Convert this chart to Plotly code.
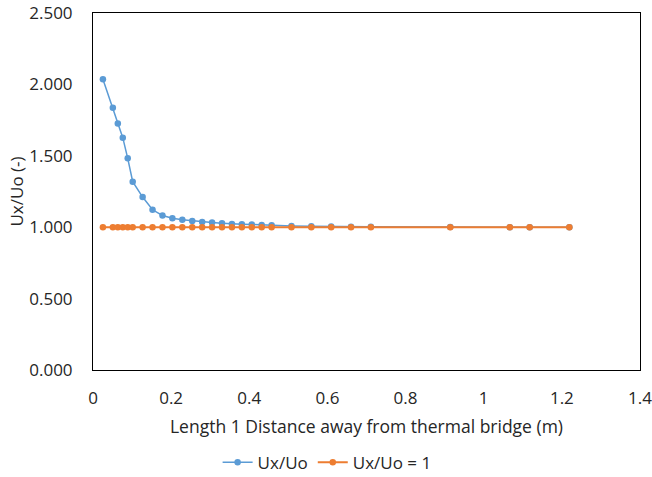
import plotly.graph_objects as go

inches = [1, 2, 2.5, 3, 3.5, 4, 5, 6, 7, 8, 9, 10, 11, 12, 13, 14, 15, 16, 17, 18,
          20, 22, 24, 26, 28, 36, 42, 44, 48]
distance_m = [round(v * 0.0254, 4) for v in inches]
ux_uo = [2.036, 1.837, 1.727, 1.627, 1.482, 1.319, 1.211, 1.122, 1.082, 1.063,
         1.052, 1.044, 1.037, 1.033, 1.028, 1.023, 1.021, 1.019, 1.016, 1.014,
         1.009, 1.007, 1.005, 1.004, 1.003, 1.001, 1.000, 1.000, 1.000]
ux_uo_ref = [1.0] * len(distance_m)

BLUE = "#5B9BD5"
ORANGE = "#ED7D31"
FONT = "Open Sans"
TXT = "#262626"

fig = go.Figure()
fig.add_trace(go.Scatter(
    x=distance_m, y=ux_uo, mode="lines+markers", name="Ux/Uo",
    line=dict(color=BLUE, width=1.5), marker=dict(color=BLUE, size=6.5)))
fig.add_trace(go.Scatter(
    x=distance_m, y=ux_uo_ref, mode="lines+markers", name="Ux/Uo = 1",
    line=dict(color=ORANGE, width=2), marker=dict(color=ORANGE, size=6.5)))

fig.update_layout(
    width=652, height=477,
    margin=dict(l=93, r=12, t=13, b=107, autoexpand=False),
    plot_bgcolor="white", paper_bgcolor="white",
    font=dict(family=FONT, size=17, color=TXT),
    showlegend=True,
    legend=dict(orientation="h", x=0.428, xanchor="center",
                y=-0.26, yanchor="middle", font=dict(size=17, color=TXT),
                itemwidth=30, tracegroupgap=0),
    xaxis=dict(range=[0, 1.4], dtick=0.2, tick0=0, showgrid=False, zeroline=False,
               showline=True, linecolor="black", linewidth=1, mirror=True,
               ticks="", ticklabelstandoff=13, automargin=False,
               ticklabeloverflow="allow",
               tickfont=dict(size=17, color=TXT),
               title=dict(text="Length 1 Distance away from thermal bridge (m)",
                          font=dict(size=17.5, color=TXT), standoff=12)),
    yaxis=dict(range=[0, 2.5], dtick=0.5, tick0=0, tickformat=".3f", showgrid=False,
               zeroline=False, showline=True, linecolor="black", linewidth=1,
               mirror=True, ticks="", ticklabelstandoff=16, automargin=False,
               ticklabeloverflow="allow",
               tickfont=dict(size=17, color=TXT),
               title=dict(text="Ux/Uo (-)", font=dict(size=17, color=TXT),
                          standoff=1)),
)

fig.write_html("out.html",
               config={"displayModeBar": False},
               post_script="document.body.style.margin='0';"
                           "document.body.style.padding='0';")
